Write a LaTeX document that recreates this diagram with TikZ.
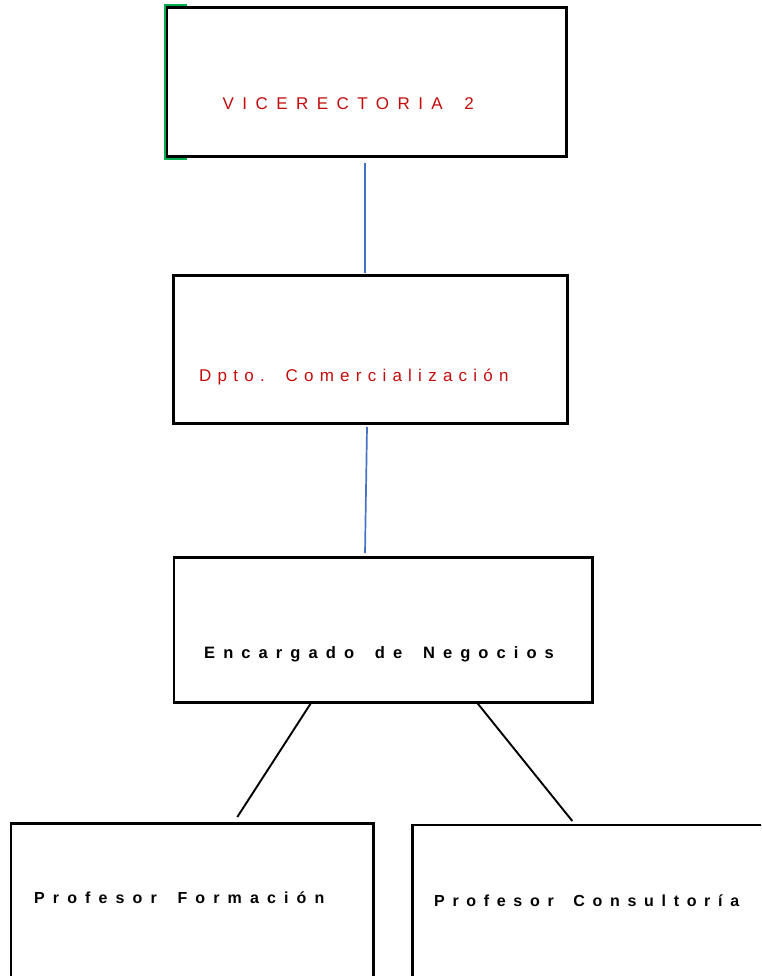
\documentclass[tikz,border=0pt]{standalone}
\usepackage{fontspec}
\setmainfont{Liberation Sans}
\definecolor{boxred}{RGB}{196,12,12}
\definecolor{connblue}{RGB}{68,114,196}
\definecolor{markgreen}{RGB}{0,176,80}
\begin{document}
\begin{tikzpicture}[x=1pt,y=-1pt,
  orgbox/.style={draw=black, line width=2.5pt, rectangle, inner sep=0pt},
  redlabel/.style={inner sep=0pt, anchor=base west, text=boxred},
  blacklabel/.style={inner sep=0pt, anchor=base west, text=black},
  blueconn/.style={draw=connblue, line width=1.7pt},
  blackconn/.style={draw=black, line width=1.9pt}]
\clip (0,0) rectangle (761,976);
\fill[white] (0,0) rectangle (761,976);
% green marker behind the first box
\draw[markgreen, line width=2.6pt] (186.5,5.2) -- (164.8,5.2) -- (164.8,159.2) -- (186.5,159.2);
% boxes
\node[orgbox, minimum width=399.7pt, minimum height=149.4pt] (vice) at (366.85,82) {};
\node[orgbox, minimum width=394pt, minimum height=148pt] (dpto) at (370.3,349.3) {};
\node[orgbox, minimum width=418.7pt, minimum height=145.4pt] (enc) at (383.35,630) {};
\node[orgbox, minimum width=362.3pt, minimum height=186.7pt] (pform) at (192.35,916.65) {};
\node[orgbox, minimum width=387.3pt, minimum height=185pt] (pcons) at (606.35,917.5) {};
% labels
\node[redlabel] (tvice) at (222.5,110) {\fontsize{17}{20}\selectfont\addfontfeatures{LetterSpace=49.7}VICERECTORIA \hspace{8.4pt}2};
\node[redlabel] (tdpto) at (199,381) {\fontsize{17}{20}\selectfont\addfontfeatures{LetterSpace=36.7}Dpto. \hspace{6.2pt}Comercialización};
\node[blacklabel] (tenc) at (204,658) {\fontsize{16.5}{20}\selectfont\bfseries\addfontfeatures{LetterSpace=49}Encargado \hspace{8.1pt}de \hspace{8.1pt}Negocios};
\node[blacklabel] (tpform) at (34,903) {\fontsize{16}{20}\selectfont\bfseries\addfontfeatures{LetterSpace=50.8}Profesor \hspace{8.1pt}Formación};
\node[blacklabel] (tpcons) at (434,906) {\fontsize{16}{20}\selectfont\bfseries\addfontfeatures{LetterSpace=48}Profesor \hspace{7.6pt}Consultoría};
% connector end points
\coordinate (c1a) at (365,163);
\coordinate (c1b) at (365,273);
\coordinate (c2a) at (367,427);
\coordinate (c2b) at (365,553);
\coordinate (c3a) at (311,703);
\coordinate (c3b) at (237.3,817);
\coordinate (c4a) at (477.3,703);
\coordinate (c4b) at (572.3,821);
% connectors
\draw[blueconn] (c1a) -- (c1b);
\draw[blueconn] (c2a) -- (c2b);
\draw[blackconn] (c3a) -- (c3b);
\draw[blackconn] (c4a) -- (c4b);
\end{tikzpicture}
\end{document}
